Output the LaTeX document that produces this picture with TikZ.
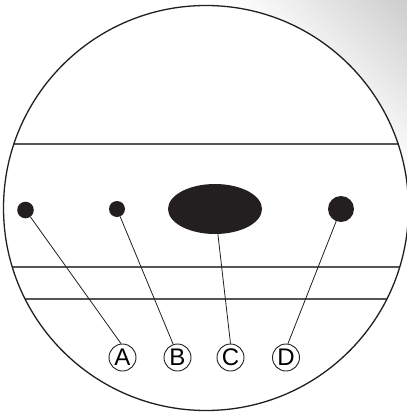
\documentclass[tikz,border=0pt]{standalone}
\usepackage{fontspec}
\setmainfont{Liberation Sans}
\usetikzlibrary{shapes.geometric}
\definecolor{ink}{HTML}{231F20}
\definecolor{rulegray}{HTML}{555555}
\begin{document}
\begin{tikzpicture}[x=1pt,y=-1pt,
  dotnode/.style={circle,fill=ink,inner sep=0pt,minimum size=#1},
  blob/.style={ellipse,fill=ink,inner sep=0pt,minimum width=94pt,minimum height=50pt},
  lbl/.style={circle,draw=ink,line width=0.9pt,inner sep=0pt,minimum size=27pt,font=\fontsize{24}{24}\selectfont},
  conn/.style={draw=ink,line width=0.8pt},
  hline/.style={draw=rulegray,line width=1.3pt}]
\useasboundingbox (0,0) rectangle (407,413);
% background gradient
\begin{scope}
\clip (0,0) rectangle (407,413);
\fill[white] (0,0) rectangle (407,413);
\foreach \i in {0,...,59}{
  \pgfmathsetmacro\da{230+\i*3}
  \pgfmathsetmacro\db{\da+3.4}
  \pgfmathsetmacro\p{40*(\i+0.5)/60}
  \fill[gray!\p] (\da,0) -- (\db,0) -- (\db+413,413) -- (\da+413,413) -- cycle;
}
\end{scope}
% lens
\fill[white] (206,208) circle[radius=202.5];
\begin{scope}
\clip (206,208) circle[radius=202.5];
\draw[hline] (0,144) -- (407,144);
\draw[hline] (0,267) -- (407,267);
\draw[hline] (0,299) -- (407,299);
\end{scope}
\draw[ink,line width=1.3pt] (206,208) circle[radius=202.5];
% particles
\node[dotnode=16.6pt] (dA) at (25.5,210) {};
\node[dotnode=16pt] (dB) at (117,209) {};
\node[blob] (dC) at (215,209) {};
\node[dotnode=26pt] (dD) at (341,209) {};
% labels
\node[lbl] (lA) at (122.5,357.5) {A};
\node[lbl] (lB) at (177.5,357.5) {B};
\node[lbl] (lC) at (230.5,357.5) {C};
\node[lbl] (lD) at (286,357.5) {D};
% connectors
\draw[conn] (dA) -- (lA.96);
\draw[conn] (dB) -- (lB.108);
\draw[conn] (dC) -- (lC.90);
\draw[conn] (dD) -- (lD.82);
\end{tikzpicture}
\end{document}
